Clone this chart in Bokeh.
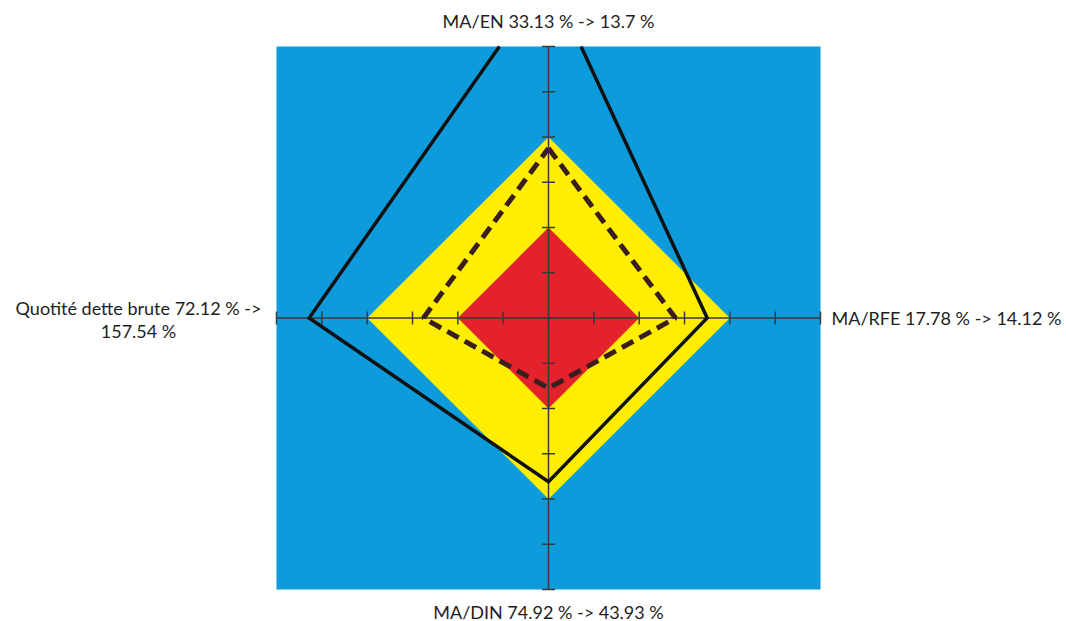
import numpy as np
from bokeh.plotting import figure
from bokeh.models import Label, ColumnDataSource, Range1d
from bokeh.embed import file_html
from bokeh.resources import INLINE

# ---- data ----
axes_labels = ["MA/EN 33.13 % -> 13.7 %", "MA/RFE 17.78 % -> 14.12 %",
               "MA/DIN 74.92 % -> 43.93 %", "Quotité dette brute 72.12 % ->\n157.54 %"]
axes_angles_deg = [90, 0, 270, 180]          # top, right, bottom, left
zone_red = [2, 2, 2, 2]
zone_yellow = [4, 4, 4, 4]
series_dashed = [3.75, 2.8, 1.55, 2.76]
series_solid = [7.55, 3.5, 3.62, 5.28]
axis_ticks = list(range(-6, 7))
axis_max = 6

BLUE = "#0E9BDB"
YELLOW = "#FFEE00"
RED = "#E4222B"
FONT = "Lato"

# ---- layout (pixels) ----
W, H = 1066, 621
SQ_LEFT, SQ_RIGHT, SQ_TOP, SQ_BOTTOM = 276, 820, 46, 589
sx = (SQ_RIGHT - SQ_LEFT) / (2 * axis_max)
sy = (SQ_BOTTOM - SQ_TOP) / (2 * axis_max)
x_range = Range1d(-axis_max - SQ_LEFT / sx, axis_max + (W - SQ_RIGHT) / sx)
y_range = Range1d(-axis_max - (H - SQ_BOTTOM) / sy, axis_max + SQ_TOP / sy)


def polar(vals):
    a = np.deg2rad(axes_angles_deg)
    v = np.array(vals, dtype=float)
    return list(v * np.cos(a)), list(v * np.sin(a))


def clip_polygon(xs, ys, lim):
    """Sutherland-Hodgman clip of a closed polygon to the square [-lim, lim]^2."""
    pts = list(zip(xs, ys))
    edges = [(0, 1, lim), (0, -1, lim), (1, 1, lim), (1, -1, lim)]
    for axis, sgn, L in edges:
        out = []
        n = len(pts)
        for i in range(n):
            cur, prev = pts[i], pts[i - 1]
            cin = sgn * cur[axis] <= L
            pin = sgn * prev[axis] <= L
            if cin != pin:
                t = (sgn * L - prev[axis]) / (cur[axis] - prev[axis])
                out.append((prev[0] + t * (cur[0] - prev[0]), prev[1] + t * (cur[1] - prev[1])))
            if cin:
                out.append(cur)
        pts = out
    return pts


p = figure(width=W, height=H, output_backend="svg", toolbar_location=None,
           x_range=x_range, y_range=y_range,
           x_axis_type=None, y_axis_type=None, tools="")
p.min_border = 0
p.grid.visible = False
p.outline_line_color = None
p.background_fill_color = "white"
p.border_fill_color = "white"

# blue square
p.quad(left=[-axis_max], right=[axis_max], bottom=[-axis_max], top=[axis_max],
       fill_color=BLUE, line_color=None)

# zones
xs, ys = polar(zone_yellow)
p.patch(xs, ys, fill_color=YELLOW, line_color=None)
xs, ys = polar(zone_red)
p.patch(xs, ys, fill_color=RED, line_color=None)

# axes cross
p.segment(x0=[-axis_max, 0], y0=[0, -axis_max], x1=[axis_max, 0], y1=[0, axis_max],
          line_color="#3a3a3a", line_width=1.5)
tick_src_h = ColumnDataSource(dict(x=axis_ticks, y=[0] * len(axis_ticks)))
tick_src_v = ColumnDataSource(dict(x=[0] * len(axis_ticks), y=axis_ticks))
p.scatter("x", "y", source=tick_src_h, marker="dash", size=13, angle=np.pi / 2,
          line_color="#3a3a3a", line_width=1.5)
p.scatter("x", "y", source=tick_src_v, marker="dash", size=13,
          line_color="#3a3a3a", line_width=1.5)

# series
xs, ys = polar(series_dashed)
p.line(xs + xs[:1], ys + ys[:1], line_color="#3A1E1E", line_width=5,
       line_dash="13 7")

xs, ys = polar(series_solid)
pts = clip_polygon(xs, ys, axis_max)
# rotate so the open side lies on the clipped top edge
top_idx = [i for i, (a, b) in enumerate(pts) if abs(b - axis_max) < 1e-9]
if len(top_idx) == 2:
    k = top_idx[1] if (top_idx[1] - top_idx[0]) == 1 else top_idx[0]
    pts = pts[k:] + pts[:k]
    cx = [q[0] for q in pts]
    cy = [q[1] for q in pts]
else:
    cx = [q[0] for q in pts] + [pts[0][0]]
    cy = [q[1] for q in pts] + [pts[0][1]]
p.line(cx, cy, line_color="#111111", line_width=3.5, line_join="miter")

# labels
common = dict(text_font=FONT, text_font_size="18px", text_color="#1e1e1e")
top_lab, right_lab, bottom_lab, left_lab = axes_labels
p.add_layout(Label(x=0, y=axis_max, text=top_lab, text_align="center",
                   text_baseline="middle", y_offset=26, **common))
p.add_layout(Label(x=0, y=-axis_max, text=bottom_lab, text_align="center",
                   text_baseline="middle", y_offset=-22, **common))
p.add_layout(Label(x=axis_max, y=0, text=right_lab, text_align="left",
                   text_baseline="middle", x_offset=11, **common))
l1, l2 = left_lab.split("\n")
p.add_layout(Label(x=-axis_max, y=0, text=l1, text_align="center",
                   text_baseline="middle", x_offset=-138, y_offset=10, **common))
p.add_layout(Label(x=-axis_max, y=0, text=l2, text_align="center",
                   text_baseline="middle", x_offset=-138, y_offset=-13, **common))

open("out.html", "w").write(file_html(p, INLINE))
